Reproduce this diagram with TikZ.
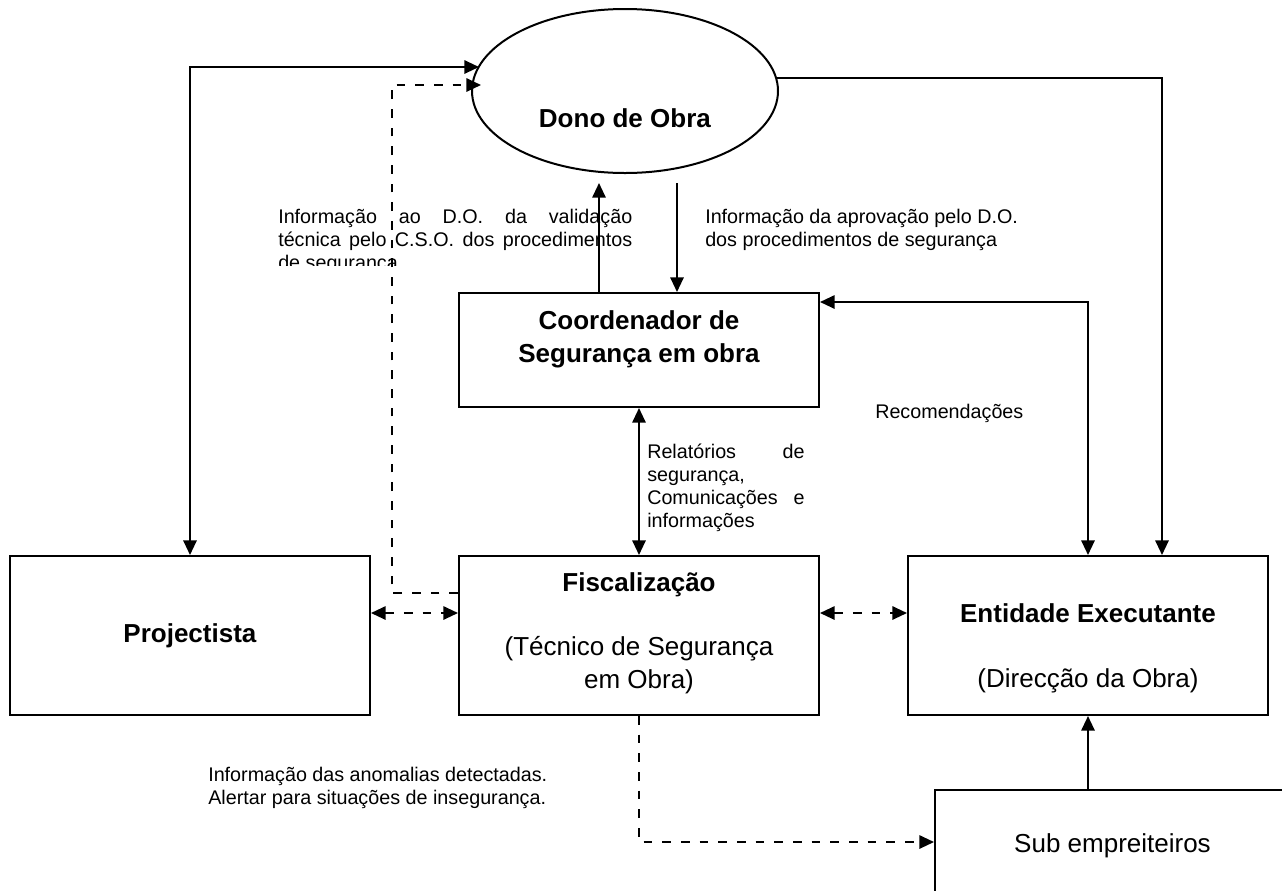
\documentclass[tikz,border=0pt]{standalone}
\usepackage{fontspec}
\setmainfont{Liberation Sans}
\usetikzlibrary{arrows.meta,shapes.geometric}

\tikzset{
  box/.style={draw, line width=1.5pt, minimum width=270pt, minimum height=119.25pt, inner sep=0pt},
  bigtxt/.style={font=\fontsize{19.5}{25}\selectfont, inner sep=0pt},
  smalltxt/.style={font=\fontsize{14.8}{17.25}\selectfont, inner sep=0pt, anchor=base west},
  link/.style={line width=1.5pt, -{Triangle[length=11pt,width=10pt]}},
  both/.style={line width=1.5pt, {Triangle[length=11pt,width=10pt]}-{Triangle[length=11pt,width=10pt]}},
  dashlink/.style={link, dash pattern=on 6.5pt off 7.5pt},
  dashboth/.style={both, dash pattern=on 6.5pt off 7.5pt},
}

\begin{document}
\begin{tikzpicture}[x=0.75pt,y=0.75pt,yscale=-1,xscale=1]
\clip (0,0) rectangle (1282,890);

%Shape: Ellipse
\node[draw, ellipse, line width=1.5pt, minimum width=229.5pt, minimum height=123pt, inner sep=0pt] (dono) at (625,91) {};
\node[bigtxt, anchor=base] (donoT) at (625,127) {\textbf{Dono de Obra}};

%Shape: Rectangle
\node[box, minimum height=85.5pt] (coord) at (639,350) {};
\node[bigtxt, anchor=base] (coordT) at (639,329) {\parbox[t]{270pt}{\centering\bfseries Coordenador de\\Segurança em obra}};

%Shape: Rectangle
\node[box] (proj) at (190,635.5) {};
\node[bigtxt, anchor=base] (projT) at (190,642) {\textbf{Projectista}};

%Shape: Rectangle
\node[box] (fisc) at (639,635.5) {};
\node[bigtxt, anchor=base] (fiscT) at (639,591) {\parbox[t]{270pt}{\centering\textbf{Fiscalização}\\[23pt](Técnico de Segurança\\em Obra)}};

%Shape: Rectangle
\node[box] (exec) at (1088,635.5) {};
\node[bigtxt, anchor=base] (execT) at (1088,622) {\parbox[t]{270pt}{\centering\textbf{Entidade Executante}\\[23.75pt](Direcção da Obra)}};

%Shape: Rectangle
\node[box, bigtxt, minimum width=266.25pt, minimum height=84pt] (sub) at (1112.5,846) {Sub empreiteiros};

% Text Node
\begin{scope}
\clip (270,195) rectangle (660,265);
\node[smalltxt] (infoCSO) at (278,223) {\parbox[t]{265.5pt}{\makebox[\linewidth][s]{Informação ao D.O. da validação}\\\makebox[\linewidth][s]{técnica pelo C.S.O. dos procedimentos}\\de segurança}};
\end{scope}
% Text Node
\node[smalltxt] (infoDO) at (705,223) {\parbox[t]{300pt}{Informação da aprovação pelo D.O.\\dos procedimentos de segurança}};
% Text Node
\node[smalltxt] (relat) at (647,458) {\parbox[t]{118pt}{\makebox[\linewidth][s]{Relatórios de}\\segurança,\\\makebox[\linewidth][s]{Comunicações e}\\informações}};
% Text Node
\node[smalltxt] (recom) at (875,418) {Recomendações};
% Text Node
\node[smalltxt] (anomal) at (208,781) {\parbox[t]{300pt}{Informação das anomalias detectadas.\\Alertar para situações de insegurança.}};

% line ends and turning points
\coordinate (inA) at (479,67);
\coordinate (inB) at (481,85);
\coordinate (outC) at (776,78);
\coordinate (upA) at (599,183);
\coordinate (upB) at (677,183);
\coordinate (turnL) at (392,593);
\coordinate (colR) at (1162,78);
\coordinate (rowT) at (0,302);
\coordinate (rowM) at (0,613);
\coordinate (rowS) at (0,842);

%Straight Lines
\draw[both] (inA) -| (proj.north);
\draw[dashlink] (fisc.west |- turnL) -| (turnL |- inB) -- (inB);
\draw[link] (outC) -| (colR |- exec.north);
\draw[link] (upA |- coord.north) -- (upA);
\draw[link] (upB) -- (upB |- coord.north);
\draw[both] (coord.east |- rowT) -| (exec.north);
\draw[both] (coord.south) -- (fisc.north);
\draw[dashboth] (proj.east |- rowM) -- (fisc.west |- rowM);
\draw[dashboth] (fisc.east |- rowM) -- (exec.west |- rowM);
\draw[link] (sub.north -| exec.south) -- (exec.south);
\draw[dashlink] (fisc.south) |- (sub.west |- rowS);

\end{tikzpicture}
\end{document}
